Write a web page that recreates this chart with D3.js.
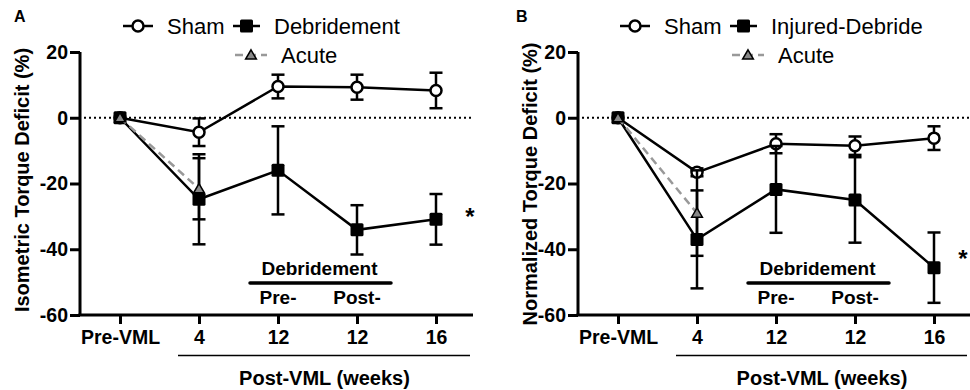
<!DOCTYPE html>
<html>
<head>
<meta charset="utf-8">
<script src="https://cdn.jsdelivr.net/npm/d3@7"></script>
<style>
  body { margin: 0; background: #fff; }
  svg { display: block; font-family: "Liberation Sans", Arial, sans-serif; }
</style>
</head>
<body>
<div id="chart"></div>
<script>
// categories along x (same for both panels)
const categories = ["Pre-VML", "4", "12", "12", "16"];
const yTicks = [20, 0, -20, -40, -60];

// panel A - isometric torque deficit (%)
const shamA = [0, -4.4, 9.5, 9.3, 8.3];
const shamAErr = [0, 4.2, 3.6, 3.8, 5.4];
const debA = [0, -24.8, -16, -34.1, -30.9];
const debAErr = [0, 13.7, 13.4, 7.5, 7.7];
const acuteA = [0, -21.6];
const acuteAErr = [0, 9.3];

// panel B - normalized torque deficit (%)
const shamB = [0, -16.6, -7.9, -8.5, -6.2];
const shamBErr = [0, 1.2, 2.9, 2.8, 3.6];
const debB = [0, -37, -21.8, -25, -45.6];
const debBErr = [0, 14.9, 13.2, 13, 10.7];
const acuteB = [0, -29];
const acuteBErr = [0, 13];

const width = 970, height = 390;

const svg = d3.select("#chart").append("svg")
    .attr("width", width)
    .attr("height", height);

function drawPanel(opt) {
    const g = svg.append("g");
    const y = d3.scaleLinear().domain([-60, 20]).range([315, 52]);
    const x = d3.scalePoint().domain(d3.range(categories.length)).range([opt.x0 + 40, opt.x0 + 356]);
    const axisX = opt.x0;
    const right = opt.right;

    // y axis
    const yAxis = d3.axisLeft(y).tickValues(yTicks).tickSize(10).tickFormat(d => String(d));
    const ya = g.append("g").attr("transform", `translate(${axisX},0)`).call(yAxis);
    ya.select(".domain").attr("stroke-width", 3).attr("d", `M0,${y(20)}V${y(-60)}`);
    ya.selectAll(".tick line").attr("stroke-width", 3);
    ya.selectAll(".tick text").attr("x", -12).style("font-size", "19.5px").style("font-weight", "bold").attr("fill", "#000");

    // x axis
    const xa = g.append("g").attr("transform", `translate(0,${y(-60)})`)
        .call(d3.axisBottom(x).tickSize(9).tickFormat(i => categories[i]));
    xa.select(".domain").attr("stroke-width", 3).attr("d", `M${axisX - 1.5},0H${right}`);
    xa.selectAll(".tick line").attr("stroke-width", 3);
    xa.selectAll(".tick text").attr("y", 15).style("font-size", "19.5px").style("font-weight", "bold").attr("fill", "#000");

    // zero reference line
    g.append("line")
        .attr("x1", axisX + 4).attr("x2", right)
        .attr("y1", y(0)).attr("y2", y(0))
        .attr("stroke", "#000").attr("stroke-width", 2)
        .attr("stroke-dasharray", "2,3");

    // post-VML bracket
    g.append("line")
        .attr("x1", x(1) - 21).attr("x2", right - 3)
        .attr("y1", 355.5).attr("y2", 355.5)
        .attr("stroke", "#000").attr("stroke-width", 1.5);
    g.append("text")
        .attr("x", (x(1) - 21 + right) / 2 - 1).attr("y", 385)
        .attr("text-anchor", "middle")
        .style("font-size", "20px").style("font-weight", "bold")
        .text("Post-VML (weeks)");

    // y title
    g.append("text")
        .attr("transform", `translate(${opt.titleX},${opt.titleY}) rotate(-90)`)
        .attr("text-anchor", "middle")
        .attr("dy", "0.35em")
        .style("font-size", "20px").style("font-weight", "bold")
        .text(opt.title);

    // panel letter
    g.append("text")
        .attr("x", opt.letterX).attr("y", 22)
        .style("font-size", "16px").style("font-weight", "bold")
        .text(opt.letter);

    // debridement inset
    const mid = (x(2) + x(3)) / 2;
    g.append("text")
        .attr("x", mid + 2).attr("y", 275)
        .attr("text-anchor", "middle")
        .style("font-size", "19px").style("font-weight", "bold")
        .text("Debridement");
    g.append("line")
        .attr("x1", x(2) - 28).attr("x2", x(3) + 34)
        .attr("y1", 283).attr("y2", 283)
        .attr("stroke", "#000").attr("stroke-width", 3.5)
        .attr("stroke-linecap", "round");
    g.append("text").attr("x", x(2)).attr("y", 304).attr("text-anchor", "middle")
        .style("font-size", "19px").style("font-weight", "bold").text("Pre-");
    g.append("text").attr("x", x(3)).attr("y", 304).attr("text-anchor", "middle")
        .style("font-size", "19px").style("font-weight", "bold").text("Post-");

    const line = d3.line().x((d, i) => x(i)).y(d => y(d));

    function series(vals, errs, kind) {
        const color = kind === "acute" ? "#999" : "#000";
        g.append("path")
            .attr("d", line(vals))
            .attr("fill", "none")
            .attr("stroke", color)
            .attr("stroke-width", 2.5)
            .attr("stroke-dasharray", kind === "acute" ? "8,5" : null);
        const eb = g.append("g");
        vals.forEach((v, i) => {
            const e = errs[i];
            if (!e) return;
            const cx = x(i);
            eb.append("line").attr("x1", cx).attr("x2", cx).attr("y1", y(v + e)).attr("y2", y(v - e))
                .attr("stroke", "#000").attr("stroke-width", 2.5);
            [v + e, v - e].forEach(t => {
                eb.append("line").attr("x1", cx - 6.5).attr("x2", cx + 6.5).attr("y1", y(t)).attr("y2", y(t))
                    .attr("stroke", "#000").attr("stroke-width", 2.5);
            });
        });
        vals.forEach((v, i) => marker(g, x(i), y(v), kind));
    }

    series(opt.sham, opt.shamErr, "sham");
    series(opt.deb, opt.debErr, "deb");
    series(opt.acute, opt.acuteErr, "acute");

    // legend
    const lg = g.append("g");
    function legendItem(x1, x2, ly, kind, label) {
        lg.append("line").attr("x1", x1).attr("x2", x2).attr("y1", ly).attr("y2", ly)
            .attr("stroke", kind === "acute" ? "#999" : "#000").attr("stroke-width", 2.5)
            .attr("stroke-dasharray", kind === "acute" ? "8,5" : null);
        marker(lg, (x1 + x2) / 2, ly, kind);
        lg.append("text").attr("x", x2 + 14).attr("y", ly).attr("dy", "0.35em")
            .style("font-size", "22px").text(label);
    }
    legendItem(opt.legX + 0, opt.legX + 30, 26, "sham", "Sham");
    legendItem(opt.legX + 110, opt.legX + 137, 26, "deb", opt.debLabel);
    legendItem(opt.legX + 112, opt.legX + 144, 55, "acute", "Acute");

    // significance star
    g.append("text")
        .attr("x", opt.starX).attr("y", opt.starY)
        .attr("text-anchor", "middle")
        .attr("dy", "0.7em")
        .style("font-size", "24px").style("font-weight", "bold")
        .text("*");
}

function marker(g, cx, cy, kind) {
    if (kind === "sham") {
        g.append("circle").attr("cx", cx).attr("cy", cy).attr("r", 5.5)
            .attr("fill", "#fff").attr("stroke", "#000").attr("stroke-width", 2.5);
    } else if (kind === "deb") {
        g.append("rect").attr("x", cx - 6.5).attr("y", cy - 6.5).attr("width", 13).attr("height", 13)
            .attr("rx", 1.5).attr("fill", "#000");
    } else {
        g.append("path").attr("transform", `translate(${cx},${cy + 1})`)
            .attr("d", d3.symbol().type(d3.symbolTriangle).size(50)())
            .attr("fill", "#888").attr("stroke", "#000").attr("stroke-width", 1.5);
    }
}

drawPanel({
    x0: 80, right: 473, letter: "A", letterX: 14,
    title: "Isometric Torque Deficit (%)", titleX: 22, titleY: 180,
    sham: shamA, shamErr: shamAErr, deb: debA, debErr: debAErr,
    acute: acuteA, acuteErr: acuteAErr,
    debLabel: "Debridement", legX: 123, starX: 470, starY: 208
});

drawPanel({
    x0: 578, right: 970, letter: "B", letterX: 516,
    title: "Normalized Torque Deficit (%)", titleX: 530, titleY: 184,
    sham: shamB, shamErr: shamBErr, deb: debB, debErr: debBErr,
    acute: acuteB, acuteErr: acuteBErr,
    debLabel: "Injured-Debride", legX: 620, starX: 963, starY: 250
});
</script>
</body>
</html>
